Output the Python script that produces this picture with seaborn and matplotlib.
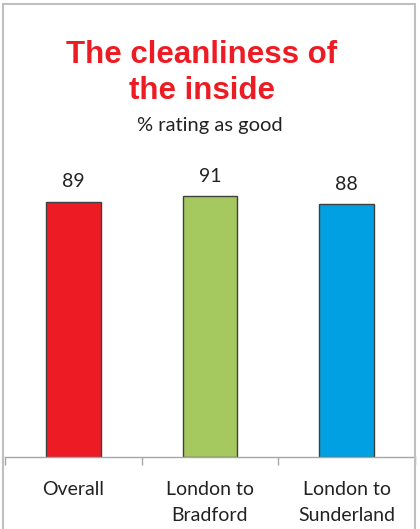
import matplotlib
matplotlib.use("Agg")
import matplotlib.pyplot as plt
import seaborn as sns
import pandas as pd
from matplotlib.patches import Rectangle

categories = ["Overall", "London to\nBradford", "London to\nSunderland"]
values = [89, 91, 88]
colors = ["#ED1C24", "#A5C85F", "#00A0E3"]
title = "The cleanliness of\nthe inside"
subtitle = "% rating as good"

sns.set_theme(style="white")
plt.rcParams['font.family'] = ['Lato', 'DejaVu Sans']

W, H = 420, 529
fig = plt.figure(figsize=(W / 100, H / 100), dpi=100)
fig.patch.set_facecolor("white")

ax_left, ax_right = 5, 415
ax_bottom_px, ax_top_px = 457, 170
ax = fig.add_axes([ax_left / W, 1 - ax_bottom_px / H,
                   (ax_right - ax_left) / W, (ax_bottom_px - ax_top_px) / H])

df = pd.DataFrame({"cat": categories, "val": values})
sns.barplot(data=df, x="cat", y="val", hue="cat", palette=colors, legend=False,
            width=0.4, edgecolor="#404040", linewidth=1, ax=ax, saturation=1)

for cont in ax.containers:
    ax.bar_label(cont, fmt="%d", padding=8, fontsize=14, color="#222222")

ax.set_ylim(0, 100)
ax.set_xlim(-0.5, 2.5)
ax.set_xlabel("")
ax.set_ylabel("")
ax.set_yticks([])
for s in ["top", "right", "left"]:
    ax.spines[s].set_visible(False)
ax.spines["bottom"].set_color("#a6a6a6")
ax.spines["bottom"].set_linewidth(1)
ax.set_xticks([-0.5, 0.5, 1.5, 2.5], minor=True)
ax.tick_params(axis="x", which="minor", length=6, color="#a6a6a6", width=1, bottom=True)
ax.tick_params(axis="x", which="major", length=0, pad=17, labelsize=14, labelcolor="#222222")
for lbl in ax.get_xticklabels():
    lbl.set_linespacing(1.7)
ax.set_facecolor("white")

fig.text(202 / W, 1 - 73 / H, title, ha="center", va="center", color="#ED1C24",
         fontsize=22.5, fontweight="bold", family=["Liberation Sans", "DejaVu Sans"],
         linespacing=1.3)
fig.text(210 / W, 1 - 125 / H, subtitle, ha="center", va="center", color="#222222",
         fontsize=14.5)

fig.patches.append(Rectangle((3 / W, -0.1), (415 - 3) / W, 1.1 - 4 / H,
                             transform=fig.transFigure, fill=False,
                             edgecolor="#bfbfbf", linewidth=1.5, zorder=10))

fig.savefig("out.png", dpi=100)
